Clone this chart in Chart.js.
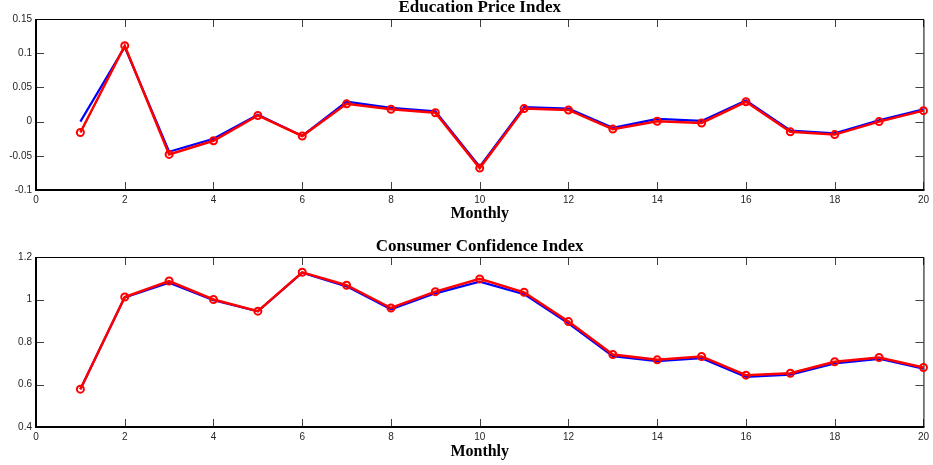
<!DOCTYPE html>
<html lang="en">
<head>
  <meta charset="UTF-8">
  <title>Education Price Index / Consumer Confidence Index</title>
  <script src="https://cdn.jsdelivr.net/npm/chart.js"></script>
  <style>
    body { margin: 0; background: #fff; }
    .panel { position: absolute; left: 0; width: 933px; height: 232px; }
    #eduPanel { top: 0; }
    #cciPanel { top: 233px; }
  </style>
</head>
<body>
  <div id="eduPanel" class="panel"><canvas id="eduChart" width="933" height="232"></canvas></div>
  <div id="cciPanel" class="panel"><canvas id="cciChart" width="933" height="232"></canvas></div>

  <script>
    // months on the x axis
    const months = [1, 2, 3, 4, 5, 6, 7, 8, 9, 10, 11, 12, 13, 14, 15, 16, 17, 18, 19, 20];
    const xTicks = [0, 2, 4, 6, 8, 10, 12, 14, 16, 18, 20];

    // education price index: actual (blue) and fitted (red)
    const eduActual = [0, 0.109, -0.044, -0.025, 0.010, -0.021, 0.029, 0.020, 0.015, -0.066,
                       0.021, 0.019, -0.009, 0.004, 0.001, 0.031, -0.013, -0.017, 0.002, 0.018];
    const eduFitted = [-0.016, 0.111, -0.048, -0.028, 0.009, -0.021, 0.026, 0.018, 0.013, -0.068,
                       0.019, 0.017, -0.011, 0.0005, -0.002, 0.029, -0.015, -0.019, 0, 0.016];
    const eduTicks = [-0.1, -0.05, 0, 0.05, 0.1, 0.15];

    // consumer confidence index: actual (blue) and fitted (red)
    const cciActual = [0.578, 1.010, 1.079, 0.997, 0.944, 1.126, 1.062, 0.954, 1.029, 1.084,
                       1.025, 0.888, 0.733, 0.710, 0.724, 0.636, 0.646, 0.699, 0.721, 0.675];
    const cciFitted = [0.578, 1.012, 1.087, 1.000, 0.945, 1.128, 1.067, 0.960, 1.037, 1.097,
                       1.034, 0.896, 0.741, 0.716, 0.732, 0.644, 0.653, 0.707, 0.727, 0.680];
    const cciTicks = [0.4, 0.6, 0.8, 1, 1.2];

    const tickFont = { family: 'Liberation Sans', size: 10 };
    const titleFont = { family: 'Liberation Serif', size: 17, weight: 'bold', lineHeight: '14px' };
    const xTitleFont = { family: 'Liberation Serif', size: 16, weight: 'bold', lineHeight: '14px' };

    // matlab-ish axes box: thick left/bottom, thin top/right, inward ticks on all sides
    const axesBox = {
      id: 'axesBox',
      beforeDatasetsDraw(chart) {
        const { ctx, chartArea: a, scales } = chart;
        const len = 8;
        ctx.save();
        ctx.strokeStyle = '#404040';
        ctx.lineWidth = 1;
        ctx.beginPath();
        scales.x.ticks.forEach(t => {
          const px = Math.round(scales.x.getPixelForValue(t.value)) + 0.5;
          ctx.moveTo(px, a.bottom); ctx.lineTo(px, a.bottom - len);
          ctx.moveTo(px, a.top); ctx.lineTo(px, a.top + len);
        });
        scales.y.ticks.forEach(t => {
          const py = Math.round(scales.y.getPixelForValue(t.value)) + 0.5;
          ctx.moveTo(a.left, py); ctx.lineTo(a.left + len, py);
          ctx.moveTo(a.right, py); ctx.lineTo(a.right - len, py);
        });
        ctx.stroke();

        ctx.strokeStyle = '#000';
        ctx.lineWidth = 1;
        ctx.beginPath();
        ctx.moveTo(a.left, a.top + 0.5); ctx.lineTo(a.right + 0.5, a.top + 0.5);
        ctx.lineTo(a.right + 0.5, a.bottom);
        ctx.stroke();
        ctx.lineWidth = 2;
        ctx.beginPath();
        ctx.moveTo(a.left, a.top); ctx.lineTo(a.left, a.bottom);
        ctx.lineTo(a.right + 1, a.bottom);
        ctx.stroke();
        ctx.restore();
      }
    };

    function makeChart(canvasId, title, actual, fitted, yTicks, opts) {
      const pts = arr => months.map((m, i) => ({ x: m, y: arr[i] }));
      return new Chart(document.getElementById(canvasId), {
        type: 'line',
        data: {
          datasets: [
            {
              data: pts(actual),
              borderColor: '#0000ff',
              borderWidth: 2.2,
              pointRadius: 0,
              tension: 0,
              clip: false,
              order: 2
            },
            {
              data: pts(fitted),
              borderColor: '#ff0000',
              borderWidth: 2.5,
              pointRadius: 3.5,
              pointBorderWidth: 2,
              pointBorderColor: '#ff0000',
              pointBackgroundColor: 'rgba(0,0,0,0)',
              tension: 0,
              clip: false,
              order: 1
            }
          ]
        },
        options: {
          responsive: false,
          animation: false,
          devicePixelRatio: 1,
          layout: { padding: { left: 0, right: 7, top: 0, bottom: 0 } },
          plugins: {
            legend: { display: false },
            tooltip: { enabled: false },
            title: {
              display: true,
              text: title,
              color: '#000',
              font: titleFont,
              fullSize: false,
              padding: opts.titlePad
            }
          },
          scales: {
            x: {
              type: 'linear',
              min: 0,
              max: 20,
              afterBuildTicks: s => { s.ticks = xTicks.map(v => ({ value: v })); },
              afterFit: s => { s.height = opts.xHeight; },
              grid: { display: false, drawTicks: false },
              border: { display: false },
              ticks: { font: tickFont, color: '#262626', padding: 4, maxRotation: 0 },
              title: {
                display: true,
                text: 'Monthly',
                color: '#000',
                font: xTitleFont,
                padding: { top: 0, bottom: opts.xTitleBottom }
              }
            },
            y: {
              type: 'linear',
              min: yTicks[0],
              max: yTicks[yTicks.length - 1],
              afterBuildTicks: s => { s.ticks = yTicks.map(v => ({ value: v })); },
              afterFit: s => { s.width = 36; },
              grid: { display: false, drawTicks: false },
              border: { display: false },
              ticks: { font: tickFont, color: '#262626', padding: 4, callback: v => String(v) }
            }
          }
        },
        plugins: [axesBox]
      });
    }

    makeChart('eduChart', 'Education Price Index', eduActual, eduFitted, eduTicks,
      { titlePad: { top: 1, bottom: 4 }, xHeight: 42, xTitleBottom: 11 });
    makeChart('cciChart', 'Consumer Confidence Index', cciActual, cciFitted, cciTicks,
      { titlePad: { top: 7, bottom: 3 }, xHeight: 38, xTitleBottom: 6 });
  </script>
</body>
</html>
